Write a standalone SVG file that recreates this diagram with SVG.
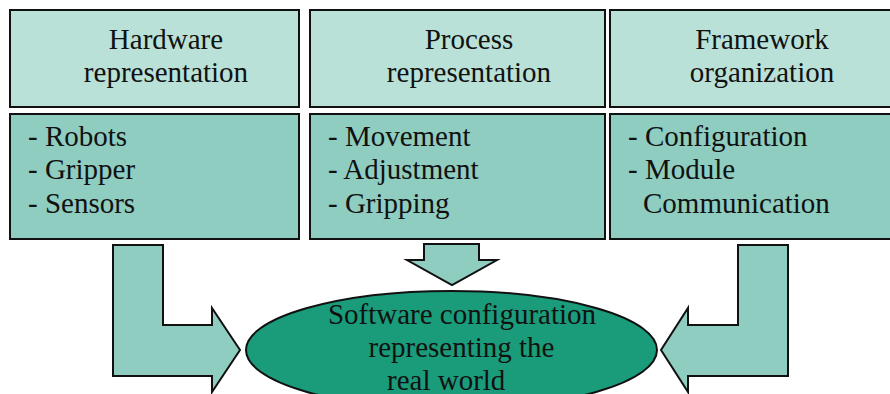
<svg xmlns="http://www.w3.org/2000/svg" width="890" height="394" viewBox="0 0 890 394">
<style>
.hdr{fill:#b9e1d7;stroke:#111;stroke-width:2}
.lst{fill:#8ecdc0;stroke:#111;stroke-width:2}
.arr{fill:#8ecdc0;stroke:#111;stroke-width:2;stroke-linejoin:miter}
.ell{fill:#1a9c7a;stroke:#111;stroke-width:2}
text{font-family:"Liberation Serif","Times New Roman",serif;font-size:29px;fill:#111}
.c{text-anchor:middle}
</style>
<rect width="890" height="394" fill="#fff"/>
<g id="connectors">
<polygon class="arr" points="113,245 163,245 163,325 212,325 212,308 240,350 212,392 212,376 113,376"/>
<polygon class="arr" points="424,244 479,244 479,260 497,260 452,285 407,260 424,260"/>
<polygon class="arr" points="738,245 788,245 788,376 688,376 688,392 661,350 688,308 688,325 738,325"/>
</g>
<g id="hardware-header">
<rect class="hdr" x="10" y="10" width="289" height="97"/>
<text class="c" x="166" y="49">Hardware</text>
<text class="c" x="166" y="82">representation</text>
</g>
<g id="process-header">
<rect class="hdr" x="310" y="10" width="295" height="97"/>
<text class="c" x="469" y="49">Process</text>
<text class="c" x="469" y="82">representation</text>
</g>
<g id="framework-header">
<rect class="hdr" x="610" y="10" width="282" height="97"/>
<text class="c" x="762" y="49">Framework</text>
<text class="c" x="762" y="82">organization</text>
</g>
<g id="hardware-list">
<rect class="lst" x="10" y="114" width="289" height="125"/>
<text x="28" y="146">- Robots</text>
<text x="28" y="179">- Gripper</text>
<text x="28" y="213">- Sensors</text>
</g>
<g id="process-list">
<rect class="lst" x="310" y="114" width="295" height="125"/>
<text x="328" y="146">- Movement</text>
<text x="328" y="179">- Adjustment</text>
<text x="328" y="213">- Gripping</text>
</g>
<g id="framework-list">
<rect class="lst" x="610" y="114" width="282" height="125"/>
<text x="628" y="146">- Configuration</text>
<text x="628" y="179">- Module</text>
<text x="643" y="213">Communication</text>
</g>
<g id="software-config">
<ellipse class="ell" cx="451.5" cy="350" rx="205.5" ry="59"/>
<text class="c" x="462" y="324">Software configuration</text>
<text class="c" x="461.5" y="357">representing the</text>
<text x="387" y="390">real world</text>
</g>
</svg>
